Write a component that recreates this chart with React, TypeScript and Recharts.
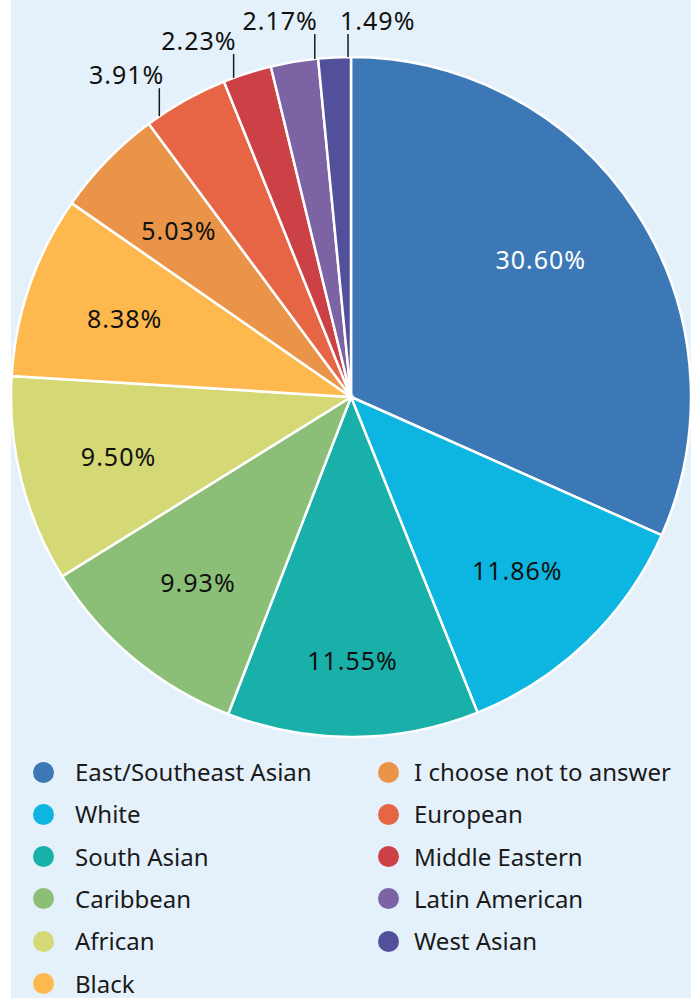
import React from 'react';
import { PieChart, Pie, Cell } from 'recharts';

const categories = [
  'East/Southeast Asian',
  'White',
  'South Asian',
  'Caribbean',
  'African',
  'Black',
  'I choose not to answer',
  'European',
  'Middle Eastern',
  'Latin American',
  'West Asian',
];
const shares = [30.6, 11.86, 11.55, 9.93, 9.5, 8.38, 5.03, 3.91, 2.23, 2.17, 1.49];
const colors = [
  '#3d78b6',
  '#0db6e1',
  '#18b0a8',
  '#8bbf77',
  '#d4d875',
  '#fdb94d',
  '#ea9449',
  '#e66545',
  '#cb4146',
  '#7b63a4',
  '#52509b',
];
const shareLabels = shares.map((v) => v.toFixed(2) + '%');

const data = categories.map((name, i) => ({ name, value: shares[i], label: shareLabels[i] }));

// label placement rules for the thin slices (leader lines)
const outsideLayout: Record<string, { frac: number; len: number; anchor: 'start' | 'end'; dx: number }> = {
  European: { frac: 0.15, len: 28, anchor: 'end', dx: 5 },
  'Middle Eastern': { frac: 0.21, len: 24, anchor: 'end', dx: 3 },
  'Latin American': { frac: 0.93, len: 25, anchor: 'end', dx: 3 },
  'West Asian': { frac: 0.91, len: 23, anchor: 'start', dx: -8 },
};
// inside label radius (fraction of outer radius) and angle nudge
const insideRadius: Record<string, number> = {
  'East/Southeast Asian': 0.69,
  'South Asian': 0.775,
};
const insideNudge: Record<string, number> = {
  'East/Southeast Asian': 3,
};

const FONT = '"Noto Sans", "Open Sans", sans-serif';
const RAD = Math.PI / 180;
const R = 340;

const renderLabel = (props: any) => {
  const { cx, cy, midAngle, startAngle, endAngle, outerRadius, index } = props;
  const name = categories[index];
  const text = shareLabels[index];
  const lay = outsideLayout[name];
  if (lay) {
    const ang = startAngle + lay.frac * (endAngle - startAngle);
    const x = cx + outerRadius * Math.cos(-ang * RAD);
    const y = cy + outerRadius * Math.sin(-ang * RAD);
    const top = y - lay.len;
    return (
      <g key={'l' + index}>
        <line x1={x} y1={y} x2={x} y2={top} stroke="#1a1a1a" strokeWidth={1.5} />
        <text
          x={x + lay.dx}
          y={top - 4}
          textAnchor={lay.anchor}
          fill="#111"
          fontSize={25}
          letterSpacing={1}
          fontFamily={FONT}
        >
          {text}
        </text>
      </g>
    );
  }
  const r = outerRadius * (insideRadius[name] ?? 0.705);
  const a = midAngle + (insideNudge[name] ?? 0);
  const x = cx + r * Math.cos(-a * RAD);
  const y = cy + r * Math.sin(-a * RAD);
  return (
    <text
      key={'l' + index}
      x={x}
      y={y}
      textAnchor="middle"
      dominantBaseline="central"
      fill={index === 0 ? '#ffffff' : '#111'}
      fontSize={25}
      letterSpacing={1}
      fontFamily={FONT}
    >
      {text}
    </text>
  );
};

export default function App() {
  return (
    <div style={{ position: 'absolute', left: 0, top: 0, width: 699, height: 998, background: '#ffffff', overflow: 'hidden' }}>
      <div style={{ position: 'absolute', left: 11, top: 0, width: 680, height: 998, background: '#e5f1fa' }} />
      <div style={{ position: 'absolute', left: 0, top: 0 }}>
        <PieChart width={699} height={750} margin={{ top: 0, right: 0, bottom: 0, left: 0 }}>
          <Pie
            data={data}
            dataKey="value"
            nameKey="name"
            cx={351}
            cy={397}
            outerRadius={R}
            startAngle={90}
            endAngle={-270}
            stroke="#ffffff"
            strokeWidth={2.5}
            label={renderLabel}
            labelLine={false}
            isAnimationActive={false}
          >
            {data.map((d, i) => (
              <Cell key={d.name} fill={colors[i]} />
            ))}
          </Pie>
        </PieChart>
      </div>
      {categories.map((name, i) => {
        const col = i < 6 ? 0 : 1;
        const row = i < 6 ? i : i - 6;
        const dotX = col === 0 ? 43 : 388;
        const textX = col === 0 ? 75 : 414;
        const yc = 772 + row * 42.3;
        return (
          <React.Fragment key={name}>
            <div
              style={{
                position: 'absolute',
                left: dotX - 10.5,
                top: yc - 10.5,
                width: 21,
                height: 21,
                borderRadius: '50%',
                background: colors[i],
              }}
            />
            <div
              style={{
                position: 'absolute',
                left: textX,
                top: yc - 13,
                height: 26,
                lineHeight: '26px',
                fontSize: 24,
                fontFamily: FONT,
                color: '#1a1a1a',
                whiteSpace: 'nowrap',
              }}
            >
              {name}
            </div>
          </React.Fragment>
        );
      })}
    </div>
  );
}
